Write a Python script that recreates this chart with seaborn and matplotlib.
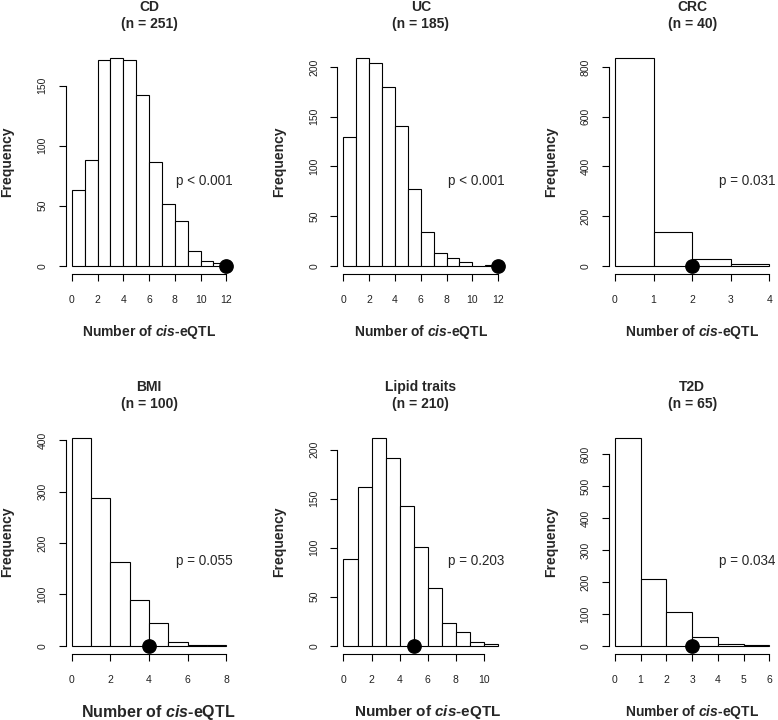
import numpy as np
import pandas as pd
import matplotlib
matplotlib.use("Agg")
import matplotlib.pyplot as plt
import seaborn as sns

# ---- data ----
panel_names = ["CD", "UC", "CRC", "BMI", "Lipid traits", "T2D"]
panel_n = [251, 185, 40, 100, 210, 65]

cd_counts = [63, 88, 171, 173, 171, 142, 86, 51, 37, 12, 4, 2]
uc_counts = [129, 209, 204, 180, 141, 77, 34, 13, 8, 4, 0, 1]
crc_counts = [836, 134, 25, 8]
bmi_counts = [405, 287, 164, 89, 44, 8, 2, 1]
lipid_counts = [88, 162, 212, 192, 143, 101, 59, 23, 14, 4, 2]
t2d_counts = [652, 208, 107, 26, 4, 2]
all_counts = [cd_counts, uc_counts, crc_counts, bmi_counts, lipid_counts, t2d_counts]

observed = [12, 12, 2, 4, 5, 3]
p_labels = ["p < 0.001", "p < 0.001", "p = 0.031", "p = 0.055", "p = 0.203", "p = 0.034"]

x_tick_max = [12, 12, 4, 8, 10, 6]
x_tick_step = [2, 2, 1, 2, 2, 1]
y_tick_max = [150, 200, 800, 400, 200, 600]
y_tick_step = [50, 50, 200, 100, 50, 100]

# per-panel x-label size / horizontal shift (pixels) as seen in the reference
xlab_size = [10, 10, 10, 11.5, 11, 10]
xlab_shift = [0, 0, 0, 9, 6.5, 0]

# ---- style ----
sns.set_style("ticks")
plt.rcParams["font.family"] = ["Liberation Sans", "DejaVu Sans"]
plt.rcParams["mathtext.fontset"] = "custom"
plt.rcParams["mathtext.it"] = "Liberation Sans:italic:bold"
plt.rcParams["mathtext.rm"] = "Liberation Sans:bold"
plt.rcParams["mathtext.bf"] = "Liberation Sans:bold"

W, H = 778, 720
fig = plt.figure(figsize=(W / 100, H / 100), dpi=100)
fig.patch.set_facecolor("white")

col_left = [65.6, 337.3, 608.7]
row_bottom = [274, 654]
aw, ah = 166.9, 224.4

for i, name in enumerate(panel_names):
    r, c = divmod(i, 3)
    ax = fig.add_axes([col_left[c] / W, 1 - row_bottom[r] / H, aw / W, ah / H])
    counts = np.array(all_counts[i], dtype=float)
    nb = len(counts)
    df = pd.DataFrame({"bin": np.arange(nb) + 0.5, "count": counts})
    sns.histplot(data=df, x="bin", weights="count", bins=nb,
                 binrange=(0, nb), ax=ax, color="white", edgecolor="black",
                 linewidth=0.8, alpha=1, fill=True)
    ymax = counts.max()
    ax.set_ylim(-0.04 * ymax, 1.04 * ymax)
    ax.set_xlim(-0.04 * nb, nb * 1.04)
    ax.set_xticks(np.arange(0, x_tick_max[i] + 1, x_tick_step[i]))
    ax.set_yticks(np.arange(0, y_tick_max[i] + 1, y_tick_step[i]))
    ax.spines["left"].set_bounds(0, y_tick_max[i])
    ax.spines["bottom"].set_bounds(0, x_tick_max[i])
    for s in ["top", "right"]:
        ax.spines[s].set_visible(False)
    for s in ["left", "bottom"]:
        ax.spines[s].set_linewidth(0.8)
        ax.spines[s].set_color("black")
    ax.set_xlabel("")
    ax.set_ylabel("")
    ax.tick_params(axis="both", length=5, width=0.8, labelsize=7.5,
                   color="black", labelcolor="#222222")
    ax.tick_params(axis="x", pad=10)
    ax.tick_params(axis="y", pad=8, labelrotation=90)
    plt.setp(ax.get_yticklabels(), va="center")

    ax.scatter([observed[i]], [0], s=92, color="black", zorder=5, clip_on=False)
    ax.text(0.83, 0.415, p_labels[i], transform=ax.transAxes, ha="center",
            va="center", fontsize=9.75)

    ax.annotate(name, xy=(0.5, 1), xycoords="axes fraction", xytext=(0, 43),
                textcoords="offset pixels", ha="center", va="center",
                fontweight="bold", fontsize=10)
    ax.annotate(f"(n = {panel_n[i]})", xy=(0.5, 1), xycoords="axes fraction",
                xytext=(0, 25.4), textcoords="offset pixels", ha="center",
                va="center", fontweight="bold", fontsize=10)
    ax.annotate("Frequency", xy=(0, 0.5), xycoords="axes fraction",
                xytext=(-58, 0), textcoords="offset pixels", rotation=90,
                ha="center", va="center", fontweight="bold", fontsize=10)
    ax.annotate(r"Number of $\mathit{cis}$-eQTL", xy=(0.5, 0),
                xycoords="axes fraction", xytext=(xlab_shift[i], -58),
                textcoords="offset pixels", ha="center", va="center",
                fontweight="bold", fontsize=xlab_size[i])

fig.savefig("out.png", dpi=100, facecolor="white")
